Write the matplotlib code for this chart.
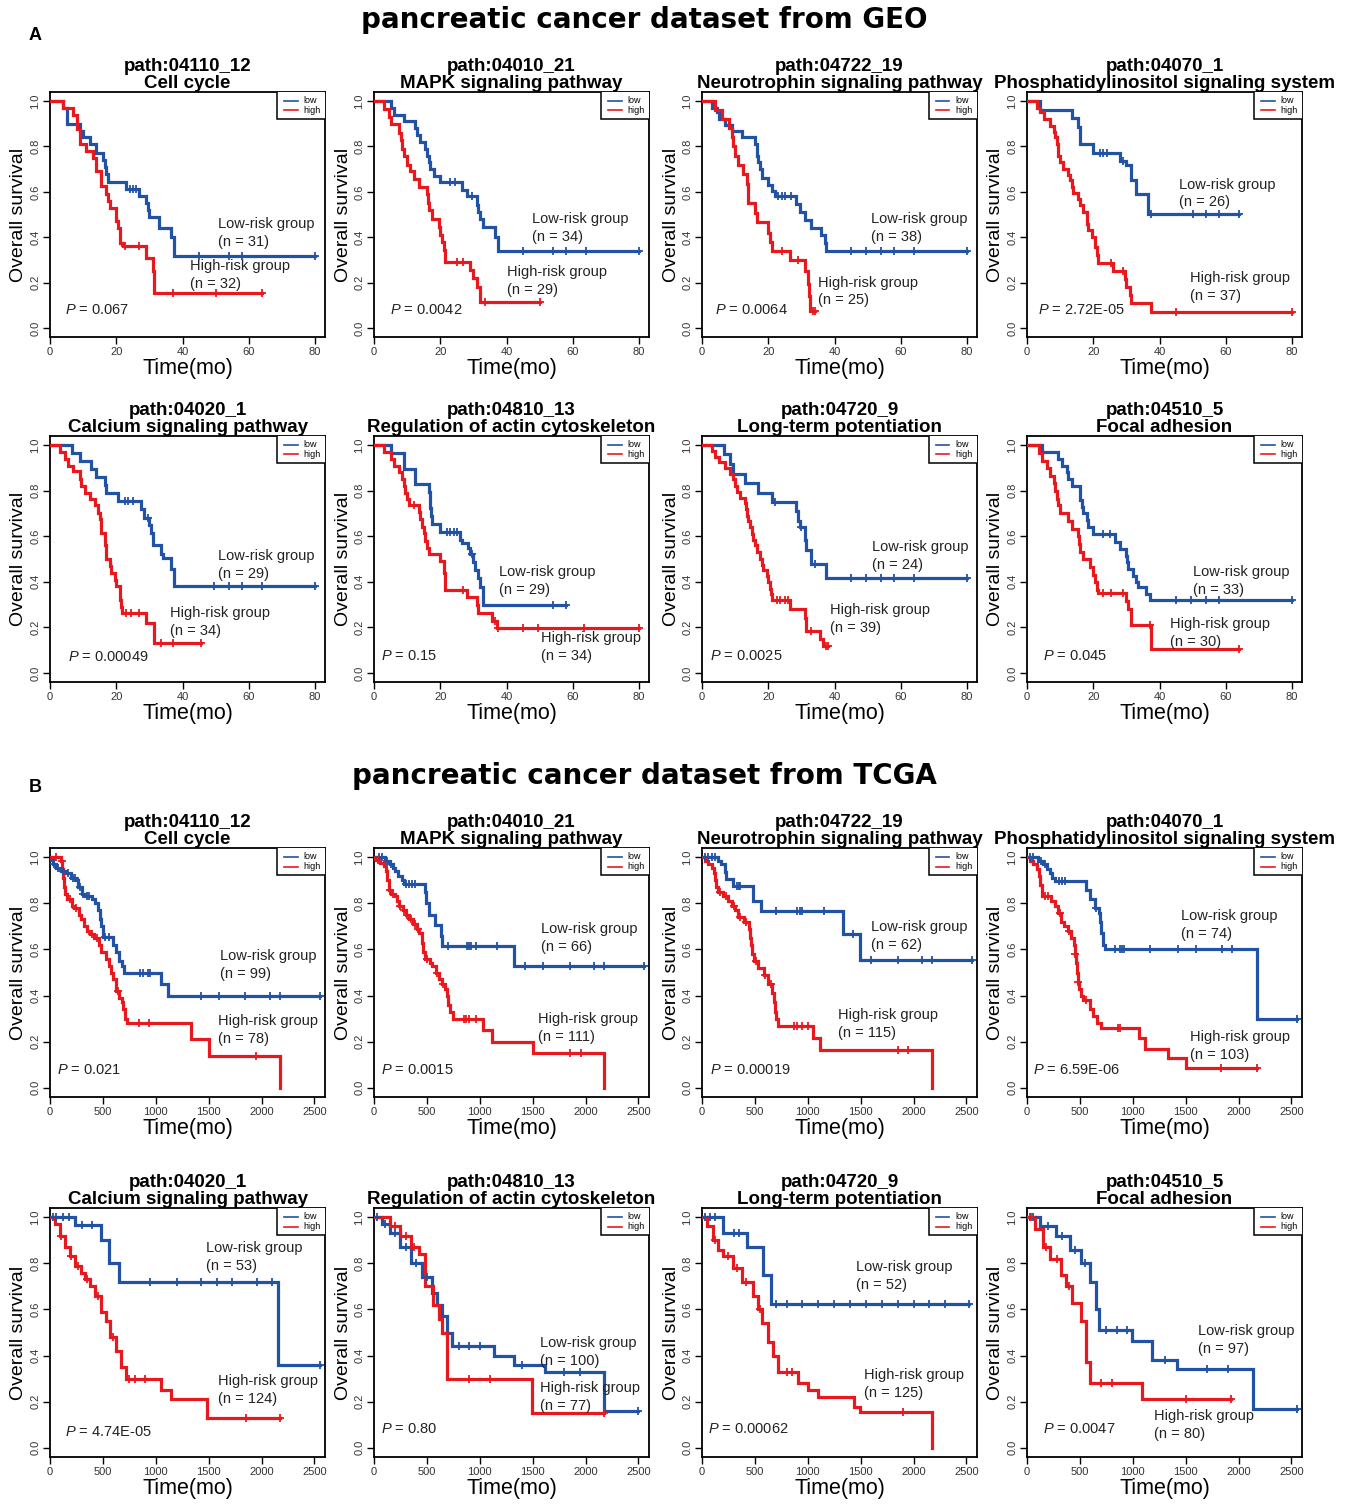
import numpy as np
import matplotlib.pyplot as plt
from matplotlib.patches import Rectangle

plt.rcParams['font.family'] = ['Liberation Sans', 'DejaVu Sans']
plt.rcParams['mathtext.fontset'] = 'custom'
plt.rcParams['mathtext.it'] = 'Liberation Sans:italic'
plt.rcParams['mathtext.rm'] = 'Liberation Sans'

# panel titles
path_ids = ['path:04110_12', 'path:04010_21', 'path:04722_19', 'path:04070_1',
            'path:04020_1', 'path:04810_13', 'path:04720_9', 'path:04510_5']
path_names = ['Cell cycle', 'MAPK signaling pathway', 'Neurotrophin signaling pathway',
              'Phosphatidylinositol signaling system', 'Calcium signaling pathway',
              'Regulation of actin cytoskeleton', 'Long-term potentiation', 'Focal adhesion']

geo_n_low = [31, 34, 38, 26, 29, 29, 24, 33]
geo_n_high = [32, 29, 25, 37, 34, 34, 39, 30]
geo_p = ['0.067', '0.0042', '0.0064', '2.72E-05', '0.00049', '0.15', '0.0025', '0.045']
tcga_n_low = [99, 66, 62, 74, 53, 100, 52, 97]
tcga_n_high = [78, 111, 115, 103, 124, 77, 125, 80]
tcga_p = ['0.021', '0.0015', '0.00019', '6.59E-06', '4.74E-05', '0.80', '0.00062', '0.0047']

# ---- GEO curves: event times, survival after event, censor times ----
a1_low_t = [4, 5, 9, 10, 12, 14, 16, 16.5, 17, 17.5, 23, 27, 29, 29.5, 30, 33, 36.5, 37.5]
a1_low_s = [0.97, 0.90, 0.87, 0.84, 0.81, 0.77, 0.74, 0.71, 0.68, 0.645, 0.613, 0.58, 0.55, 0.52, 0.49, 0.44, 0.40, 0.316]
a1_low_c = [24, 25, 26, 45, 54, 58, 80]
a1_high_t = [4, 7, 8, 9, 11, 13, 14, 15.5, 17, 17.5, 18, 20, 20.5, 21, 22, 29, 31, 31.5]
a1_high_s = [0.97, 0.94, 0.875, 0.81, 0.78, 0.75, 0.69, 0.625, 0.59, 0.56, 0.53, 0.47, 0.44, 0.375, 0.36, 0.31, 0.25, 0.155]
a1_high_c = [22.5, 27, 37, 50, 64]

a2_low_t = [5, 6, 9, 12.5, 13, 14, 15.5, 16, 16.5, 17, 18, 20, 26.5, 28, 31, 31.5, 32, 33, 36.5, 37.5]
a2_low_s = [0.97, 0.94, 0.91, 0.88, 0.85, 0.82, 0.79, 0.76, 0.73, 0.70, 0.67, 0.645, 0.61, 0.58, 0.54, 0.51, 0.48, 0.445, 0.40, 0.34]
a2_low_c = [23, 24.5, 29.5, 45, 54, 58, 64, 80]
a2_high_t = [3, 4.5, 5, 7.5, 8, 8.5, 9, 10, 11, 12, 13.5, 16, 16.3, 16.6, 17.5, 19.5, 20, 20.5, 21, 21.5, 29, 30, 31, 32]
a2_high_s = [0.965, 0.93, 0.90, 0.86, 0.83, 0.79, 0.76, 0.72, 0.69, 0.655, 0.62, 0.59, 0.55, 0.52, 0.48, 0.445, 0.41, 0.38, 0.345, 0.29, 0.255, 0.22, 0.18, 0.115]
a2_high_c = [25, 27, 33.5, 50]

a3_low_t = [3, 4.5, 5, 7, 9, 12, 16, 16.5, 17, 17.5, 18, 20, 21, 22, 28.5, 29.5, 31, 33, 36, 37, 37.5]
a3_low_s = [0.97, 0.95, 0.92, 0.895, 0.87, 0.84, 0.81, 0.76, 0.73, 0.70, 0.66, 0.63, 0.605, 0.58, 0.545, 0.51, 0.475, 0.44, 0.41, 0.375, 0.34]
a3_low_c = [23, 24, 25, 27, 45, 49.5, 54, 58, 64, 80]
a3_high_t = [4, 6, 8, 9, 9.5, 10, 11, 12.5, 13.5, 13.8, 14, 16, 16.5, 20, 20.5, 21, 26.5, 31, 32, 32.3, 32.5]
a3_high_s = [0.96, 0.92, 0.88, 0.84, 0.80, 0.76, 0.72, 0.68, 0.635, 0.59, 0.55, 0.505, 0.465, 0.42, 0.38, 0.34, 0.30, 0.25, 0.195, 0.14, 0.075]
a3_high_c = [24, 29, 33.5, 34]

a4_low_t = [4, 13.5, 15.5, 16, 20, 28, 30, 31.5, 33, 36.5]
a4_low_s = [0.96, 0.925, 0.885, 0.81, 0.77, 0.735, 0.72, 0.65, 0.59, 0.50]
a4_low_c = [22, 23, 24, 29, 37.5, 50, 54, 58, 64]
a4_high_t = [3, 4, 5, 7, 8, 8.5, 9, 9.5, 10, 11, 12.5, 13, 13.5, 14, 15.5, 16, 17, 18, 18.5, 19.5,
             20.5, 21, 21.5, 26, 29.5, 30, 31, 31.5, 37.5]
a4_high_s = [0.97, 0.95, 0.92, 0.89, 0.865, 0.84, 0.81, 0.76, 0.73, 0.70, 0.675, 0.65, 0.62, 0.595, 0.57, 0.54, 0.51, 0.46, 0.43, 0.40,
             0.355, 0.32, 0.285, 0.25, 0.215, 0.18, 0.145, 0.11, 0.07]
a4_high_c = [25.5, 29, 45, 80]

a5_low_t = [6.5, 9, 12.5, 14, 16.5, 17, 20.5, 27.5, 28.5, 30, 30.5, 31, 33.5, 34, 36.5, 37.5]
a5_low_s = [0.965, 0.93, 0.895, 0.86, 0.825, 0.79, 0.755, 0.72, 0.68, 0.65, 0.615, 0.56, 0.52, 0.505, 0.455, 0.38]
a5_low_c = [22.5, 23.5, 25, 29.5, 49.5, 54, 58, 64, 80]
a5_high_t = [3, 4.5, 5.5, 7, 9, 9.5, 10.5, 12, 13.5, 14.5, 15, 15.5, 16.5, 16.8, 17, 18, 18.5, 19.5, 20, 21, 21.3, 21.6, 29, 31.5]
a5_high_s = [0.97, 0.94, 0.91, 0.885, 0.85, 0.82, 0.79, 0.765, 0.735, 0.70, 0.675, 0.615, 0.56, 0.53, 0.50, 0.47, 0.44, 0.41, 0.38, 0.32, 0.29, 0.265, 0.22, 0.13]
a5_high_c = [23, 24.5, 27, 33.5, 37, 45.5]

a6_low_t = [5, 9, 12.5, 16.5, 16.8, 17, 17.3, 17.5, 20, 26, 26.5, 28.5, 29, 30, 30.5, 31.5, 32, 33]
a6_low_s = [0.965, 0.895, 0.83, 0.795, 0.76, 0.725, 0.69, 0.655, 0.62, 0.585, 0.57, 0.55, 0.52, 0.485, 0.45, 0.415, 0.375, 0.30]
a6_low_c = [22, 23, 24, 25, 29.5, 54, 58]
a6_high_t = [3, 5, 6, 7.5, 8.5, 9, 9.5, 10, 10.5, 13.5, 14, 14.5, 15, 15.5, 16, 16.5, 20, 21, 21.3, 21.5, 28, 31, 31.5, 35.5, 37]
a6_high_s = [0.97, 0.94, 0.91, 0.88, 0.85, 0.82, 0.79, 0.765, 0.735, 0.705, 0.675, 0.64, 0.615, 0.58, 0.55, 0.52, 0.49, 0.44, 0.40, 0.365, 0.335, 0.30, 0.265, 0.23, 0.195]
a6_high_c = [12, 27, 36.5, 37.5, 45, 49.5, 63.5, 80]

a7_low_t = [6.5, 8.5, 9.5, 13, 17, 21, 28.5, 29, 29.5, 31, 31.5, 33, 37.5]
a7_low_s = [0.96, 0.915, 0.875, 0.835, 0.79, 0.75, 0.71, 0.665, 0.64, 0.585, 0.54, 0.48, 0.415]
a7_low_c = [22, 30, 34, 45, 49.5, 54, 58, 64, 80]
a7_high_t = [3, 4, 5, 7, 8.5, 9.5, 10, 10.5, 11.5, 13, 13.3, 13.5, 14, 14.5, 15, 15.5, 16, 16.5, 17.5, 18,
             18.5, 19.5, 20, 20.5, 20.8, 21, 26.5, 31, 31.5, 35.5, 36.5]
a7_high_s = [0.975, 0.95, 0.925, 0.90, 0.875, 0.85, 0.82, 0.795, 0.77, 0.745, 0.72, 0.69, 0.665, 0.64, 0.61, 0.585, 0.56, 0.53, 0.50, 0.475,
             0.45, 0.425, 0.40, 0.37, 0.345, 0.32, 0.28, 0.24, 0.185, 0.15, 0.12]
a7_high_c = [22.5, 23.5, 25, 26, 33, 37.5, 38]

a8_low_t = [4.5, 9.5, 10.5, 12, 12.5, 13.5, 16, 16.5, 17, 18, 18.5, 20, 26.5, 28, 30, 30.3, 30.5, 32, 33, 33.5, 36, 37]
a8_low_s = [0.97, 0.94, 0.91, 0.88, 0.85, 0.82, 0.76, 0.73, 0.70, 0.67, 0.64, 0.61, 0.575, 0.545, 0.515, 0.485, 0.455, 0.425, 0.40, 0.375, 0.345, 0.32]
a8_low_c = [23, 25, 45, 49.5, 54, 58, 80]
a8_high_t = [3.5, 4.5, 6, 7, 8, 8.5, 9, 9.5, 10, 12.5, 13.5, 15.5, 15.8, 16, 17, 19, 20, 20.5, 21, 21.5, 30, 30.5, 31.5, 37.5]
a8_high_s = [0.965, 0.93, 0.90, 0.865, 0.835, 0.80, 0.765, 0.735, 0.70, 0.665, 0.63, 0.60, 0.565, 0.53, 0.50, 0.465, 0.43, 0.40, 0.365, 0.35, 0.315, 0.28, 0.21, 0.105]
a8_high_c = [23, 25.5, 29, 37, 64]

# ---- TCGA curves ----
b1_low_t = [10, 30, 60, 100, 150, 200, 250, 260, 300, 330, 400, 430, 450, 470, 480, 500, 600, 620, 650, 680, 700, 1050, 1120]
b1_low_s = [0.99, 0.97, 0.955, 0.94, 0.93, 0.91, 0.90, 0.87, 0.84, 0.83, 0.82, 0.80, 0.77, 0.73, 0.70, 0.655, 0.62, 0.59, 0.55, 0.53, 0.50, 0.45, 0.40]
b1_low_c = [40, 80, 120, 170, 220, 240, 280, 310, 350, 370, 520, 560, 850, 880, 930, 950, 1430, 1600, 1840, 2080, 2170, 2556]
b1_high_t = [100, 115, 120, 130, 140, 160, 210, 230, 270, 290, 320, 350, 380, 420, 460, 480, 530, 560, 580, 600,
             620, 650, 680, 690, 710, 730, 1330, 1500, 2170]
b1_high_s = [0.985, 0.95, 0.91, 0.87, 0.84, 0.82, 0.79, 0.78, 0.75, 0.73, 0.70, 0.68, 0.665, 0.65, 0.62, 0.59, 0.56, 0.53, 0.50, 0.47,
             0.42, 0.39, 0.37, 0.34, 0.30, 0.28, 0.21, 0.14, 0.0]
b1_high_c = [60, 110, 190, 250, 400, 440, 640, 840, 940, 1950]

b2_low_t = [100, 150, 180, 200, 230, 260, 280, 480, 490, 520, 580, 630, 640, 1320]
b2_low_s = [0.985, 0.97, 0.955, 0.94, 0.92, 0.90, 0.885, 0.85, 0.80, 0.75, 0.705, 0.66, 0.615, 0.53]
b2_low_c = [50, 80, 120, 160, 300, 330, 360, 390, 700, 880, 900, 920, 960, 1160, 1430, 1600, 1850, 2080, 2170, 2556]
b2_high_t = [20, 60, 90, 110, 125, 140, 160, 200, 220, 240, 270, 300, 330, 370, 410, 430, 450, 460, 480, 530,
             550, 590, 610, 640, 670, 690, 700, 720, 750, 1030, 1120, 1500, 2170]
b2_high_s = [0.99, 0.975, 0.96, 0.94, 0.90, 0.86, 0.84, 0.83, 0.81, 0.79, 0.77, 0.75, 0.73, 0.71, 0.69, 0.67, 0.63, 0.59, 0.56, 0.54,
             0.53, 0.50, 0.47, 0.45, 0.43, 0.40, 0.36, 0.33, 0.30, 0.25, 0.20, 0.15, 0.0]
b2_high_c = [40, 150, 180, 250, 280, 310, 350, 390, 420, 500, 600, 650, 850, 870, 900, 960, 1850, 1960]

b3_low_t = [150, 180, 220, 230, 290, 480, 560, 1330, 1490]
b3_low_s = [0.985, 0.97, 0.935, 0.905, 0.875, 0.81, 0.765, 0.665, 0.555]
b3_low_c = [30, 60, 90, 120, 330, 350, 360, 700, 900, 930, 950, 1150, 1430, 1600, 1850, 2080, 2170, 2556]
b3_high_t = [30, 60, 90, 110, 125, 135, 150, 200, 250, 280, 310, 340, 400, 440, 450, 460, 470, 490, 530, 590,
             620, 660, 680, 690, 700, 720, 1050, 1120, 2170]
b3_high_s = [0.985, 0.97, 0.955, 0.93, 0.90, 0.87, 0.85, 0.83, 0.81, 0.79, 0.77, 0.74, 0.72, 0.69, 0.65, 0.62, 0.58, 0.55, 0.52, 0.49,
             0.45, 0.41, 0.37, 0.33, 0.30, 0.27, 0.215, 0.165, 0.0]
b3_high_c = [170, 230, 300, 360, 420, 510, 600, 650, 870, 900, 950, 1000, 1850, 1950]

b4_low_t = [100, 150, 190, 220, 240, 260, 560, 600, 640, 680, 690, 700, 720, 740, 2170]
b4_low_s = [0.985, 0.97, 0.95, 0.93, 0.91, 0.895, 0.86, 0.82, 0.78, 0.76, 0.72, 0.67, 0.62, 0.60, 0.30]
b4_low_c = [30, 60, 130, 170, 300, 330, 360, 650, 830, 880, 900, 920, 1160, 1430, 1600, 1840, 1940, 2556]
b4_high_t = [30, 60, 90, 110, 125, 140, 230, 260, 290, 320, 350, 390, 420, 440, 450, 460, 470, 480, 490, 510,
             530, 600, 620, 660, 700, 1060, 1120, 1330, 1500]
b4_high_s = [0.985, 0.97, 0.95, 0.92, 0.88, 0.83, 0.81, 0.79, 0.76, 0.72, 0.70, 0.68, 0.65, 0.62, 0.58, 0.54, 0.50, 0.46, 0.43, 0.40,
             0.38, 0.34, 0.31, 0.28, 0.26, 0.215, 0.17, 0.13, 0.087]
b4_high_c = [170, 200, 310, 400, 450, 480, 560, 860, 880, 1830, 2170]

b5_low_t = [240, 480, 560, 650, 2160]
b5_low_s = [0.965, 0.90, 0.80, 0.72, 0.36]
b5_low_c = [30, 60, 120, 180, 300, 400, 950, 1200, 1430, 1580, 1720, 1960, 2100, 2556]
b5_high_t = [50, 90, 140, 190, 240, 290, 330, 380, 430, 480, 525, 570, 620, 670, 715, 1050, 1145, 1480]
b5_high_s = [0.97, 0.92, 0.87, 0.83, 0.79, 0.76, 0.73, 0.70, 0.66, 0.59, 0.55, 0.48, 0.42, 0.35, 0.30, 0.25, 0.21, 0.13]
b5_high_c = [100, 200, 260, 350, 450, 600, 750, 800, 900, 1850, 2170]

b6_low_t = [80, 155, 250, 350, 450, 545, 600, 640, 690, 740, 1130, 1320, 1615, 2170]
b6_low_s = [0.97, 0.93, 0.87, 0.80, 0.74, 0.67, 0.62, 0.57, 0.50, 0.44, 0.40, 0.36, 0.33, 0.16]
b6_low_c = [30, 100, 200, 300, 400, 500, 800, 900, 1000, 1400, 1800, 1950, 2500]
b6_high_t = [150, 250, 350, 430, 480, 560, 610, 640, 690, 1490]
b6_high_s = [0.96, 0.92, 0.87, 0.84, 0.70, 0.62, 0.56, 0.50, 0.30, 0.15]
b6_high_c = [200, 300, 380, 900, 1100, 2170]

b7_low_t = [200, 430, 575, 650]
b7_low_s = [0.93, 0.87, 0.75, 0.625]
b7_low_c = [30, 80, 120, 300, 350, 700, 800, 950, 1100, 1250, 1400, 1550, 1700, 1850, 2000, 2150, 2300, 2520]
b7_high_t = [50, 100, 150, 200, 290, 380, 480, 525, 570, 620, 670, 720, 910, 1000, 1100, 1440, 1490, 2170]
b7_high_s = [0.96, 0.90, 0.86, 0.83, 0.78, 0.72, 0.66, 0.60, 0.54, 0.46, 0.40, 0.33, 0.28, 0.25, 0.22, 0.175, 0.155, 0.0]
b7_high_c = [120, 250, 330, 420, 550, 800, 850, 1900]

b8_low_t = [125, 270, 410, 510, 600, 650, 680, 990, 1180, 1420, 2140]
b8_low_s = [0.96, 0.92, 0.86, 0.80, 0.72, 0.60, 0.51, 0.465, 0.38, 0.34, 0.17]
b8_low_c = [30, 60, 200, 330, 450, 550, 750, 850, 950, 1300, 1700, 1900, 2556]
b8_high_t = [75, 150, 220, 320, 365, 430, 510, 560, 600, 1085]
b8_high_s = [0.95, 0.87, 0.82, 0.75, 0.70, 0.63, 0.55, 0.37, 0.28, 0.21]
b8_high_c = [40, 180, 280, 400, 700, 800, 1500, 1930]

# text positions (data coords): low label, high label, P label
geo_txt = [((50.7, 0.456), (42.3, 0.272), (4.5, 0.079)),
           ((47.7, 0.478), (40.2, 0.246), (4.8, 0.079)),
           ((51.0, 0.478), (35.0, 0.200), (3.9, 0.079)),
           ((45.9, 0.632), (49.2, 0.219), (3.3, 0.079)),
           ((50.7, 0.513), (36.2, 0.263), (5.4, 0.070)),
           ((37.7, 0.443), (50.4, 0.154), (2.1, 0.075)),
           ((51.3, 0.553), (38.6, 0.276), (2.4, 0.075)),
           ((50.1, 0.443), (43.2, 0.215), (4.8, 0.075))]
tcga_txt = [((1604, 0.571), (1585, 0.290), (66, 0.078)),
            ((1575, 0.688), (1547, 0.299), (66, 0.078)),
            ((1594, 0.697), (1283, 0.316), (75, 0.078)),
            ((1453, 0.745), (1538, 0.221), (57, 0.078)),
            ((1472, 0.867), (1585, 0.290), (142, 0.069)),
            ((1566, 0.455), (1566, 0.260), (66, 0.082)),
            ((1453, 0.785), (1528, 0.317), (57, 0.082)),
            ((1613, 0.507), (1198, 0.139), (151, 0.082))]

geo_curves = [(a1_low_t, a1_low_s, a1_low_c, a1_high_t, a1_high_s, a1_high_c),
              (a2_low_t, a2_low_s, a2_low_c, a2_high_t, a2_high_s, a2_high_c),
              (a3_low_t, a3_low_s, a3_low_c, a3_high_t, a3_high_s, a3_high_c),
              (a4_low_t, a4_low_s, a4_low_c, a4_high_t, a4_high_s, a4_high_c),
              (a5_low_t, a5_low_s, a5_low_c, a5_high_t, a5_high_s, a5_high_c),
              (a6_low_t, a6_low_s, a6_low_c, a6_high_t, a6_high_s, a6_high_c),
              (a7_low_t, a7_low_s, a7_low_c, a7_high_t, a7_high_s, a7_high_c),
              (a8_low_t, a8_low_s, a8_low_c, a8_high_t, a8_high_s, a8_high_c)]
tcga_curves = [(b1_low_t, b1_low_s, b1_low_c, b1_high_t, b1_high_s, b1_high_c),
               (b2_low_t, b2_low_s, b2_low_c, b2_high_t, b2_high_s, b2_high_c),
               (b3_low_t, b3_low_s, b3_low_c, b3_high_t, b3_high_s, b3_high_c),
               (b4_low_t, b4_low_s, b4_low_c, b4_high_t, b4_high_s, b4_high_c),
               (b5_low_t, b5_low_s, b5_low_c, b5_high_t, b5_high_s, b5_high_c),
               (b6_low_t, b6_low_s, b6_low_c, b6_high_t, b6_high_s, b6_high_c),
               (b7_low_t, b7_low_s, b7_low_c, b7_high_t, b7_high_s, b7_high_c),
               (b8_low_t, b8_low_s, b8_low_c, b8_high_t, b8_high_s, b8_high_c)]

BLUE = '#2152A4'
RED = '#E8191E'
W, H = 1354, 1507
col_left = [50, 374, 702, 1027]
row_top = [92, 436, 848, 1208]
row_h = [245, 246, 249, 249]
ax_w = 275


def km_line(ax, times, surv, cens, color):
    times = np.asarray(times, float)
    surv = np.asarray(surv, float)
    xs, ys = [0.0], [1.0]
    prev = 1.0
    for t, s in zip(times, surv):
        xs += [t, t]
        ys += [prev, s]
        prev = s
    end = max(np.max(times), np.max(cens))
    xs.append(end)
    ys.append(prev)
    ax.plot(xs, ys, color=color, lw=2.3, solid_joinstyle='miter', zorder=3)
    cens = np.asarray(cens, float)
    idx = np.searchsorted(times, cens, side='right') - 1
    cs = np.where(idx >= 0, surv[np.clip(idx, 0, None)], 1.0)
    ax.plot(cens, cs, ls='none', marker='+', ms=6, mew=1.3, color=color, zorder=4)


def draw_panel(ax, k, curves, txt, n_low, n_high, pval, xmax, xticks):
    lt, ls_, lc, ht, hs, hc = curves
    km_line(ax, lt, ls_, lc, BLUE)
    km_line(ax, ht, hs, hc, RED)
    ax.set_xlim(0, xmax)
    ax.set_ylim(-0.04, 1.04)
    ax.set_xticks(xticks)
    ax.set_yticks([0, 0.2, 0.4, 0.6, 0.8, 1.0])
    ax.set_yticklabels(['0.0', '0.2', '0.4', '0.6', '0.8', '1.0'])
    ax.tick_params(direction='out', length=5, width=1, labelsize=8,
                   labelcolor='#333333', pad=2)
    plt.setp(ax.get_yticklabels(), rotation=90, va='center')
    for sp in ax.spines.values():
        sp.set_linewidth(1.3)
    ax.set_xlabel('Time(mo)', fontsize=15.5, labelpad=1)
    ax.set_ylabel('Overall survival', fontsize=14, labelpad=2)
    ax.set_title(f'{path_ids[k]}\n{path_names[k]}', fontsize=13.5, fontweight='bold',
                 pad=2, linespacing=1.0)
    (lx, ly), (hx, hy), (px, py) = txt
    ax.text(lx, ly, 'Low-risk group', fontsize=10.5, va='center', color='#222222')
    ax.text(lx, ly - 0.079, f'(n = {n_low})', fontsize=10.5, va='center', color='#222222')
    ax.text(hx, hy, 'High-risk group', fontsize=10.5, va='center', color='#222222')
    ax.text(hx, hy - 0.079, f'(n = {n_high})', fontsize=10.5, va='center', color='#222222')
    ax.text(px, py, f'$P$ = {pval}', fontsize=10.5, va='center', color='#222222')
    # small legend box in the corner
    ax.add_patch(Rectangle((0.825, 0.89), 0.2, 0.12, transform=ax.transAxes,
                           facecolor='white', edgecolor='black', lw=1.1, zorder=5))
    ax.plot([0.85, 0.9], [0.965, 0.965], transform=ax.transAxes, color=BLUE, lw=1.2, zorder=6)
    ax.plot([0.85, 0.9], [0.925, 0.925], transform=ax.transAxes, color=RED, lw=1.2, zorder=6)
    ax.text(0.92, 0.965, 'low', transform=ax.transAxes, fontsize=6.5, va='center', zorder=6, clip_on=True)
    ax.text(0.92, 0.925, 'high', transform=ax.transAxes, fontsize=6.5, va='center', zorder=6, clip_on=True)


fig = plt.figure(figsize=(W / 100, H / 100), dpi=100)

for r in range(4):
    for c in range(4):
        k = (r % 2) * 4 + c
        l = col_left[c] / W
        b = 1 - (row_top[r] + row_h[r]) / H
        ax = fig.add_axes([l, b, ax_w / W, row_h[r] / H])
        if r < 2:
            draw_panel(ax, k, geo_curves[k], geo_txt[k], geo_n_low[k], geo_n_high[k],
                       geo_p[k], 83, [0, 20, 40, 60, 80])
        else:
            draw_panel(ax, k, tcga_curves[k], tcga_txt[k], tcga_n_low[k], tcga_n_high[k],
                       tcga_p[k], 2600, [0, 500, 1000, 1500, 2000, 2500])

fig.text(644 / W, 1 - 20 / H, 'pancreatic cancer dataset from GEO', fontsize=20,
         fontweight='heavy', family='DejaVu Sans', ha='center', va='center')
fig.text(644 / W, 1 - 776 / H, 'pancreatic cancer dataset from TCGA', fontsize=20,
         fontweight='heavy', family='DejaVu Sans', ha='center', va='center')
fig.text(35 / W, 1 - 35 / H, 'A', fontsize=13, fontweight='bold', ha='center', va='center')
fig.text(35 / W, 1 - 787 / H, 'B', fontsize=13, fontweight='bold', ha='center', va='center')

fig.savefig('out.png', dpi=100)
